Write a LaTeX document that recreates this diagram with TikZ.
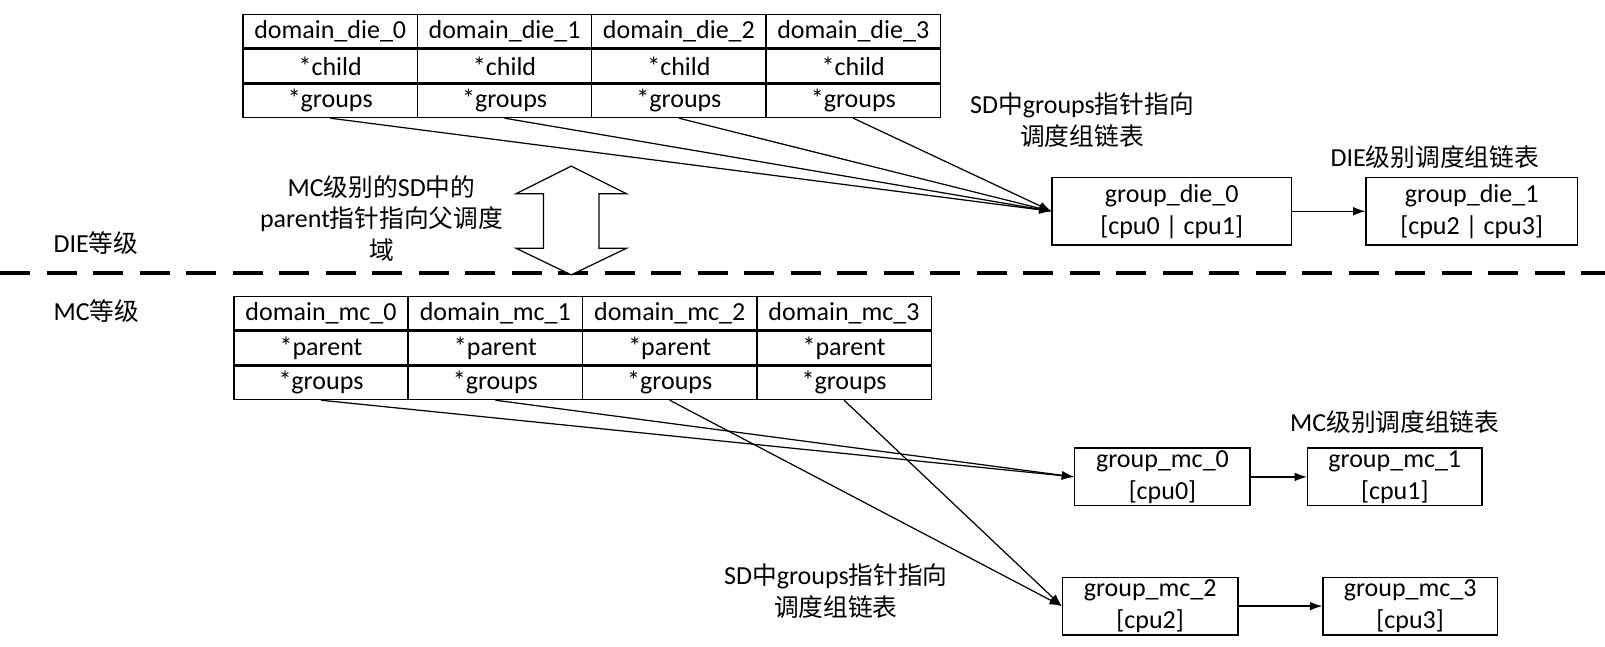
\documentclass[tikz,border=0pt]{standalone}
\usepackage{fontspec}
\setmainfont{Carlito}
\newfontfamily\cjk{Noto Sans CJK SC}[Scale=0.95]
\usetikzlibrary{positioning,arrows.meta}

\newcommand{\zh}[1]{{\cjk #1}}
\newcommand{\txt}{\fontsize{14.8}{18.1}\selectfont}

\tikzset{
    cell/.style={draw, line width=0.8pt, minimum width=3.487cm, minimum height=0.667cm, inner sep=0pt, font=\txt},
    grp/.style={draw, line width=0.8pt, align=center, inner sep=0pt, font=\txt},
    ptr/.style={-{Latex[length=7pt,width=5pt]}, line width=0.7pt},
    lbl/.style={align=center, inner sep=0pt, font=\txt}
}

\begin{document}
\begin{tikzpicture}[x=0.02051cm, y=-0.02051cm]
    \useasboundingbox (0,0) rectangle (1565,630);

    % DIE level sched domains
    \foreach \i in {0,...,3} {
        \node[cell] (die\i) at ({322+170*\i},30.5) {domain\_die\_\i};
        \node[cell, below=0pt of die\i] (die\i c) {*child};
        \node[cell, below=0pt of die\i c] (die\i g) {*groups};
    }

    % MC level sched domains
    \foreach \i in {0,...,3} {
        \node[cell] (mc\i) at ({313+170*\i},305.5) {domain\_mc\_\i};
        \node[cell, below=0pt of mc\i] (mc\i p) {*parent};
        \node[cell, below=0pt of mc\i p] (mc\i g) {*groups};
    }

    % sched groups
    \node[grp, minimum width=4.78cm, minimum height=1.354cm] (gdie0) at (1142.5,206) {group\_die\_0\\{}[cpu0 | cpu1]};
    \node[grp, minimum width=4.225cm, minimum height=1.354cm] (gdie1) at (1435,206) {group\_die\_1\\{}[cpu2 | cpu3]};
    \node[grp, minimum width=3.507cm, minimum height=1.149cm] (gmc0) at (1133.5,465) {group\_mc\_0\\{}[cpu0]};
    \node[grp, minimum width=3.487cm, minimum height=1.149cm] (gmc1) at (1360,465) {group\_mc\_1\\{}[cpu1]};
    \node[grp, minimum width=3.507cm, minimum height=1.149cm] (gmc2) at (1121.5,591) {group\_mc\_2\\{}[cpu2]};
    \node[grp, minimum width=3.487cm, minimum height=1.149cm] (gmc3) at (1375,591) {group\_mc\_3\\{}[cpu3]};

    % labels
    \node[lbl] (sdtop) at (1055,117) {SD\zh{中}groups\zh{指针指向}\\\zh{调度组链表}};
    \node[lbl] (dielist) at (1399,153) {DIE\zh{级别调度组链表}};
    \node[lbl] (parentlbl) at (372,213) {MC\zh{级别的}SD\zh{中的}\\parent\zh{指针指向父调度}\\\zh{域}};
    \node[lbl, anchor=west] (dielvl) at (52,237) {DIE\zh{等级}};
    \node[lbl, anchor=west] (mclvl) at (52,303) {MC\zh{等级}};
    \node[lbl] (mclist) at (1360,412) {MC\zh{级别调度组链表}};
    \node[lbl] (sdbot) at (815,576) {SD\zh{中}groups\zh{指针指向}\\\zh{调度组链表}};

    % level separator
    \draw[line width=2pt, dash pattern=on 0.6cm off 0.33cm] (0,266) -- (1565,266);

    % parent pointer
    \draw[line width=0.7pt, fill=white] (557,162) -- (611,189) -- (584,189) -- (584,242) -- (611,242)
        -- (557,268) -- (503,242) -- (530,242) -- (530,189) -- (503,189) -- cycle;

    % groups pointers
    \foreach \i in {0,...,3}
        \draw[ptr] (die\i g.south) -- (gdie0.west);
    \foreach \i in {0,1}
        \draw[ptr] (mc\i g.south) -- (gmc0.west);
    \foreach \i in {2,3}
        \draw[ptr] (mc\i g.south) -- (gmc2.west);

    % group lists
    \draw[ptr] (gdie0) -- (gdie1);
    \draw[ptr] (gmc0) -- (gmc1);
    \draw[ptr] (gmc2) -- (gmc3);
\end{tikzpicture}
\end{document}
